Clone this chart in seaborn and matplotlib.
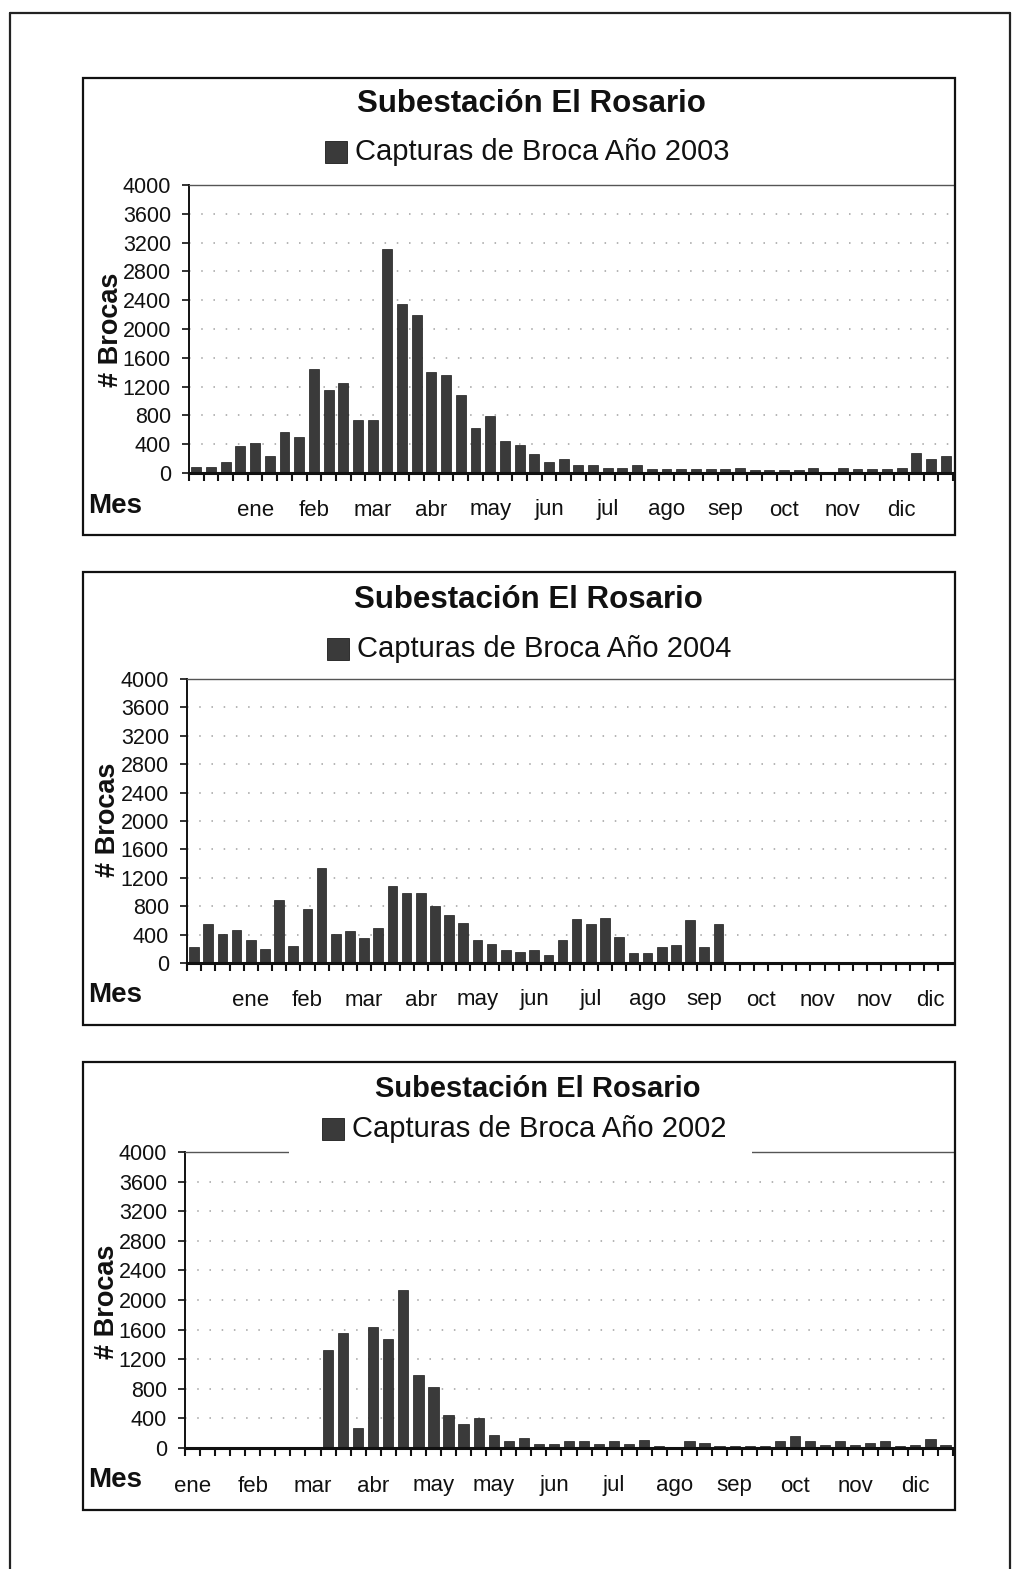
import numpy as np
import pandas as pd
import matplotlib
matplotlib.use("Agg")
import matplotlib.pyplot as plt
from matplotlib.patches import Rectangle
from matplotlib.lines import Line2D
import seaborn as sns

W, H = 1017, 1569

sns.set_theme(style="white")
plt.rcParams['font.family'] = ['Liberation Sans', 'DejaVu Sans']

TITULO = "Subestación El Rosario"
EJE_Y = "# Brocas"
EJE_X = "Mes"

# --- Capturas semanales 2003 (52 semanas) ---
capturas_2003 = [80, 80, 150, 375, 420, 235, 565, 500, 1450, 1155,
                 1245, 735, 735, 3110, 2345, 2195, 1405, 1355, 1090, 620,
                 795, 440, 385, 265, 150, 200, 110, 105, 70, 70,
                 105, 60, 60, 60, 60, 60, 60, 65, 35, 35,
                 35, 35, 65, 0, 65, 60, 60, 60, 65, 280,
                 200, 240]
semanas_2003 = 52
meses_2003 = ["ene", "feb", "mar", "abr", "may", "jun",
              "jul", "ago", "sep", "oct", "nov", "dic"]
pos_meses_2003 = [4, 8, 12, 16, 20, 24, 28, 32, 36, 40, 44, 48]

# --- Capturas semanales 2004 (datos hasta la semana 38) ---
capturas_2004 = [226, 555, 405, 470, 320, 202, 885, 235, 767, 1332,
                 414, 447, 358, 499, 1087, 979, 979, 800, 682, 565,
                 330, 264, 179, 150, 179, 118, 330, 620, 555, 635,
                 367, 136, 136, 221, 254, 612, 221, 555]
semanas_2004 = 53
meses_2004 = ["ene", "feb", "mar", "abr", "may", "jun", "jul",
              "ago", "sep", "oct", "nov", "nov", "dic"]
pos_meses_2004 = [4, 8, 12, 16, 20, 24, 28, 32, 36, 40, 44, 48, 52]

# --- Capturas semanales 2002 ---
capturas_2002 = [0, 0, 0, 0, 0, 0, 0, 0, 0, 1330,
                 1550, 270, 1640, 1470, 2140, 990, 830, 440, 330, 410,
                 180, 100, 130, 50, 50, 95, 90, 60, 90, 60,
                 110, 30, 20, 90, 65, 30, 30, 30, 30, 90,
                 165, 90, 45, 90, 45, 65, 100, 30, 45, 125,
                 40]
semanas_2002 = 51
meses_2002 = ["ene", "feb", "mar", "abr", "may", "may", "jun",
              "jul", "ago", "sep", "oct", "nov", "dic"]
pos_meses_2002 = [0, 4, 8, 12, 16, 20, 24, 28, 32, 36, 40, 44, 48]

BAR = "#3a3a3a"
INK = "#111111"


def fx(x):
    return x / W


def fy(y):
    return 1 - y / H


fig = plt.figure(figsize=(W / 100, H / 100), dpi=100)
fig.patch.set_facecolor("white")

# page frame
for xs, ys in [((10, 10), (13, H)), ((10, 1010), (13, 13)), ((1010, 1010), (13, H))]:
    fig.add_artist(Line2D([fx(v) for v in xs], [fy(v) for v in ys],
                          transform=fig.transFigure, color="#222222", lw=1.6))

paneles = [
    dict(valores=capturas_2003, n=semanas_2003, meses=meses_2003, pos=pos_meses_2003,
         anio="2003", caja=(83, 78, 955, 535), x0=189, x1=953, ytop=185, ybase=473,
         paso=14.7, titulo_xy=(531, 104), ley_y=152, marca_x=325, texto_x=355,
         ylab_x=111, ylab_y=330, mes_y=506, etiqueta_y=510, fondo=None,
         tam_titulo=22.5, tam_ley=21),
    dict(valores=capturas_2004, n=semanas_2004, meses=meses_2004, pos=pos_meses_2004,
         anio="2004", caja=(83, 572, 955, 1025), x0=187, x1=953, ytop=679, ybase=963,
         paso=14.17, titulo_xy=(528, 600), ley_y=649, marca_x=327, texto_x=357,
         ylab_x=108, ylab_y=820, mes_y=995, etiqueta_y=1000, fondo=None,
         tam_titulo=22.5, tam_ley=21),
    dict(valores=capturas_2002, n=semanas_2002, meses=meses_2002, pos=pos_meses_2002,
         anio="2002", caja=(83, 1062, 955, 1510), x0=185, x1=953, ytop=1152, ybase=1448,
         paso=15.06, titulo_xy=(538, 1089), ley_y=1129, marca_x=322, texto_x=352,
         ylab_x=107, ylab_y=1302, mes_y=1480, etiqueta_y=1486,
         fondo=(289, 1110, 752, 1162), tam_titulo=21, tam_ley=21),
]

for p in paneles:
    bx0, by0, bx1, by1 = p["caja"]
    fig.add_artist(Rectangle((fx(bx0), fy(by1)), (bx1 - bx0) / W, (by1 - by0) / H,
                             transform=fig.transFigure, fill=False, ec=INK, lw=1.6,
                             zorder=0.5))

    ax = fig.add_axes([fx(p["x0"]), fy(p["ybase"]),
                       (p["x1"] - p["x0"]) / W, (p["ybase"] - p["ytop"]) / H])
    ax.patch.set_visible(False)

    df = pd.DataFrame({"semana": np.arange(len(p["valores"])),
                       "capturas": p["valores"]})
    sns.barplot(data=df, x="semana", y="capturas", order=list(range(p["n"])),
                color=BAR, saturation=1, width=0.68, edgecolor="#1c1c1c",
                linewidth=0.5, ax=ax, zorder=2)

    ax.set_ylim(0, 4000)
    ax.set_xlim(-0.5, -0.5 + (p["x1"] - p["x0"]) / p["paso"])

    for v in range(400, 4000, 400):
        ax.axhline(v, color="#a0a0a0", lw=1.1, ls=(0, (1, 7)), zorder=0.5)

    ax.spines["right"].set_visible(False)
    ax.spines["top"].set_color("#555555")
    ax.spines["top"].set_linewidth(1.0)
    ax.spines["left"].set_color(INK)
    ax.spines["left"].set_linewidth(1.4)
    ax.spines["bottom"].set_color(INK)
    ax.spines["bottom"].set_linewidth(2.2)
    ax.spines["bottom"].set_zorder(3)

    ax.set_yticks(range(0, 4001, 400))
    ax.tick_params(axis="y", direction="out", length=5, width=1.2, colors=INK,
                   labelsize=15.5, pad=8, left=True)
    ax.set_xticks(np.arange(-0.5, p["n"], 1.0))
    ax.set_xticklabels([])
    ax.tick_params(axis="x", direction="out", length=5.5, width=1.5, colors=INK,
                   bottom=True)
    ax.set_xlabel("")
    ax.set_ylabel("")

    alto = p["ybase"] - p["ytop"]
    yfrac = -(p["etiqueta_y"] - p["ybase"]) / alto
    for lab, xp in zip(p["meses"], p["pos"]):
        ax.text(xp, yfrac, lab, transform=ax.get_xaxis_transform(),
                ha="center", va="center", fontsize=16, color=INK)

    tx, ty = p["titulo_xy"]
    fig.text(fx(tx), fy(ty), TITULO, ha="center", va="center",
             fontsize=p["tam_titulo"], fontweight="bold", color=INK)

    if p["fondo"] is not None:
        gx0, gy0, gx1, gy1 = p["fondo"]
        fig.add_artist(Rectangle((fx(gx0), fy(gy1)), (gx1 - gx0) / W, (gy1 - gy0) / H,
                                 transform=fig.transFigure, fc="white", ec="none",
                                 zorder=1))

    ly = p["ley_y"]
    fig.add_artist(Rectangle((fx(p["marca_x"]), fy(ly + 11)), 22 / W, 22 / H,
                             transform=fig.transFigure, fc=BAR, ec="#1c1c1c",
                             lw=0.6, zorder=2))
    fig.text(fx(p["texto_x"]), fy(ly), f"Capturas de Broca Año {p['anio']}",
             ha="left", va="center", fontsize=p["tam_ley"], color=INK, zorder=3)

    fig.text(fx(p["ylab_x"]), fy(p["ylab_y"]), EJE_Y, rotation=90, ha="center",
             va="center", fontsize=19.5, fontweight="bold", color=INK)
    fig.text(fx(88), fy(p["mes_y"]), EJE_X, ha="left", va="center",
             fontsize=20, fontweight="bold", color=INK)

fig.savefig("out.png", dpi=100, facecolor="white")
